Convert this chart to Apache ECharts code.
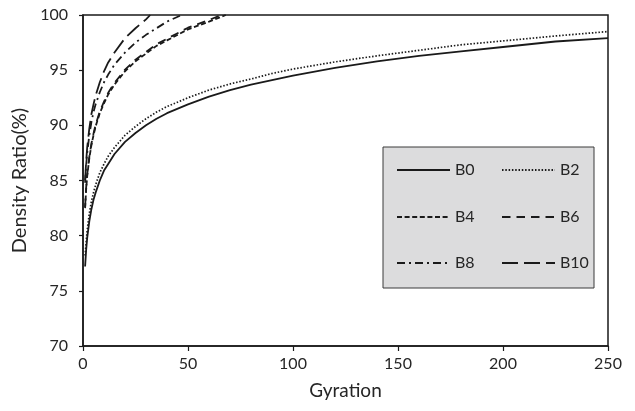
<!DOCTYPE html>
<html>
<head>
<meta charset="utf-8">
<script src="https://cdn.jsdelivr.net/npm/echarts@6/dist/echarts.min.js"></script>
<style>html,body{margin:0;padding:0;background:#fff;}#chart{width:635px;height:411px;}</style>
</head>
<body>
<div id="chart"></div>
<script>
// Gyration sample points and read-off density ratios (%)
var gyrationLong = [1, 1.5, 2, 3, 4, 5, 6, 8, 10, 12, 15, 20, 25, 30, 35, 40, 50, 60, 70, 80, 90, 100, 120, 140, 160, 180, 200, 225, 250];
var b0Values = [77.2, 78.7, 79.8, 81.3, 82.4, 83.25, 83.9, 85.0, 85.9, 86.5, 87.4, 88.5, 89.3, 90.0, 90.6, 91.1, 91.9, 92.6, 93.2, 93.7, 94.1, 94.5, 95.2, 95.8, 96.3, 96.7, 97.1, 97.6, 97.9];
var b2Values = [78.2, 79.4, 80.5, 82.0, 83.1, 83.9, 84.6, 85.7, 86.5, 87.2, 88.0, 89.1, 89.9, 90.6, 91.2, 91.7, 92.5, 93.2, 93.75, 94.2, 94.7, 95.1, 95.75, 96.3, 96.8, 97.3, 97.65, 98.1, 98.5];

var gyrationB4 = [1, 1.5, 2, 3, 4, 5, 6, 8, 10, 12, 15, 20, 25, 30, 35, 40, 50, 60, 68];
var b4Values = [82.5, 84.2, 85.4, 87.0, 88.2, 89.1, 89.9, 91.1, 92.0, 92.8, 93.7, 94.9, 95.8, 96.5, 97.2, 97.7, 98.7, 99.4, 100];
var gyrationB6 = [1, 1.5, 2, 3, 4, 5, 6, 8, 10, 12, 15, 20, 25, 30, 35, 40, 50, 60, 66];
var b6Values = [82.6, 84.35, 85.55, 87.15, 88.35, 89.25, 90.05, 91.25, 92.15, 92.95, 93.85, 95.05, 95.95, 96.65, 97.35, 97.85, 98.85, 99.55, 100];
var gyrationB8 = [1, 1.5, 2, 3, 4, 5, 6, 8, 10, 12, 15, 20, 25, 30, 35, 40, 47];
var b8Values = [84.8, 86.4, 87.5, 89.1, 90.3, 91.2, 91.9, 93.0, 93.9, 94.6, 95.5, 96.6, 97.5, 98.2, 98.8, 99.4, 100];
var gyrationB10 = [1, 1.5, 2, 3, 4, 5, 6, 8, 10, 12, 15, 20, 25, 30, 32];
var b10Values = [85.0, 86.7, 88.0, 89.7, 91.0, 91.9, 92.7, 93.9, 94.9, 95.7, 96.6, 97.9, 98.8, 99.6, 100];

var seriesNames = ['B0', 'B2', 'B4', 'B6', 'B8', 'B10'];
var xTicks = [0, 50, 100, 150, 200, 250];

function pairs(xs, ys) { return xs.map(function (x, i) { return [x, ys[i]]; }); }

var dashStyles = {
  B0: 'solid',
  B2: [1.5, 1.8],
  B4: [5, 2.6],
  B6: [8.5, 6],
  B8: [8, 4, 2, 4],
  B10: [16, 6]
};
var dataMap = {
  B0: pairs(gyrationLong, b0Values),
  B2: pairs(gyrationLong, b2Values),
  B4: pairs(gyrationB4, b4Values),
  B6: pairs(gyrationB6, b6Values),
  B8: pairs(gyrationB8, b8Values),
  B10: pairs(gyrationB10, b10Values)
};

var textColor = '#262626';
var fontFam = 'Lato, "Open Sans", sans-serif';

var series = seriesNames.map(function (n) {
  return {
    name: n,
    type: 'line',
    data: dataMap[n],
    smooth: false,
    symbol: 'none',
    showSymbol: false,
    clip: true,
    lineStyle: { color: '#1a1a1a', width: n === 'B2' ? 1.7 : 1.8, type: dashStyles[n] },
    itemStyle: { color: '#1a1a1a' },
    z: 3
  };
});

var legendPos = [
  ['B0', 396, 162], ['B2', 501, 162],
  ['B4', 396, 209], ['B6', 501, 209],
  ['B8', 396, 255], ['B10', 501, 255]
];
var legends = legendPos.map(function (p) {
  return {
    data: [p[0]],
    left: p[1], top: p[2],
    padding: 0,
    itemWidth: 53, itemHeight: 18,
    itemGap: 0,
    selectedMode: false,
    itemStyle: { opacity: 0 },
    textStyle: { color: textColor, fontSize: 16, fontFamily: fontFam, padding: [0, 0, 0, 0] },
    z: 10
  };
});

var chart = echarts.init(document.getElementById('chart'), null, { renderer: 'canvas' });
chart.setOption({
  backgroundColor: '#ffffff',
  animation: false,
  grid: {
    left: 83, right: 27, top: 15, bottom: 65,
    show: true, borderColor: '#1a1a1a', borderWidth: 1.5, backgroundColor: 'transparent'
  },
  graphic: [{
    type: 'rect',
    shape: { x: 383, y: 147, width: 211, height: 141 },
    style: { fill: '#dcdcdd', stroke: '#3a3a3a', lineWidth: 1 },
    z: 1, zlevel: 0
  }],
  legend: legends,
  xAxis: {
    type: 'value', min: 0, max: 250, interval: 50,
    name: 'Gyration', nameLocation: 'middle', nameGap: 35,
    nameTextStyle: { color: textColor, fontSize: 19, fontFamily: fontFam },
    axisLine: { show: true, lineStyle: { color: '#1a1a1a', width: 1.5 } },
    axisTick: { show: true, inside: false, length: 5, lineStyle: { color: '#1a1a1a', width: 1.2 } },
    axisLabel: { color: textColor, fontSize: 16, fontFamily: fontFam, margin: 10,
      formatter: function (v) { return xTicks.indexOf(v) >= 0 ? String(v) : ''; } },
    splitLine: { show: false }
  },
  yAxis: {
    type: 'value', min: 70, max: 100, interval: 5,
    name: 'Density Ratio(%)', nameLocation: 'middle', nameGap: 47, nameRotate: 90,
    nameTextStyle: { color: textColor, fontSize: 20, fontFamily: fontFam },
    axisLine: { show: true, lineStyle: { color: '#1a1a1a', width: 1.5 } },
    axisTick: { show: true, inside: false, length: 4, lineStyle: { color: '#1a1a1a', width: 1.2 } },
    axisLabel: { color: textColor, fontSize: 16, fontFamily: fontFam, margin: 15 },
    splitLine: { show: false }
  },
  series: series
});
</script>
</body>
</html>
